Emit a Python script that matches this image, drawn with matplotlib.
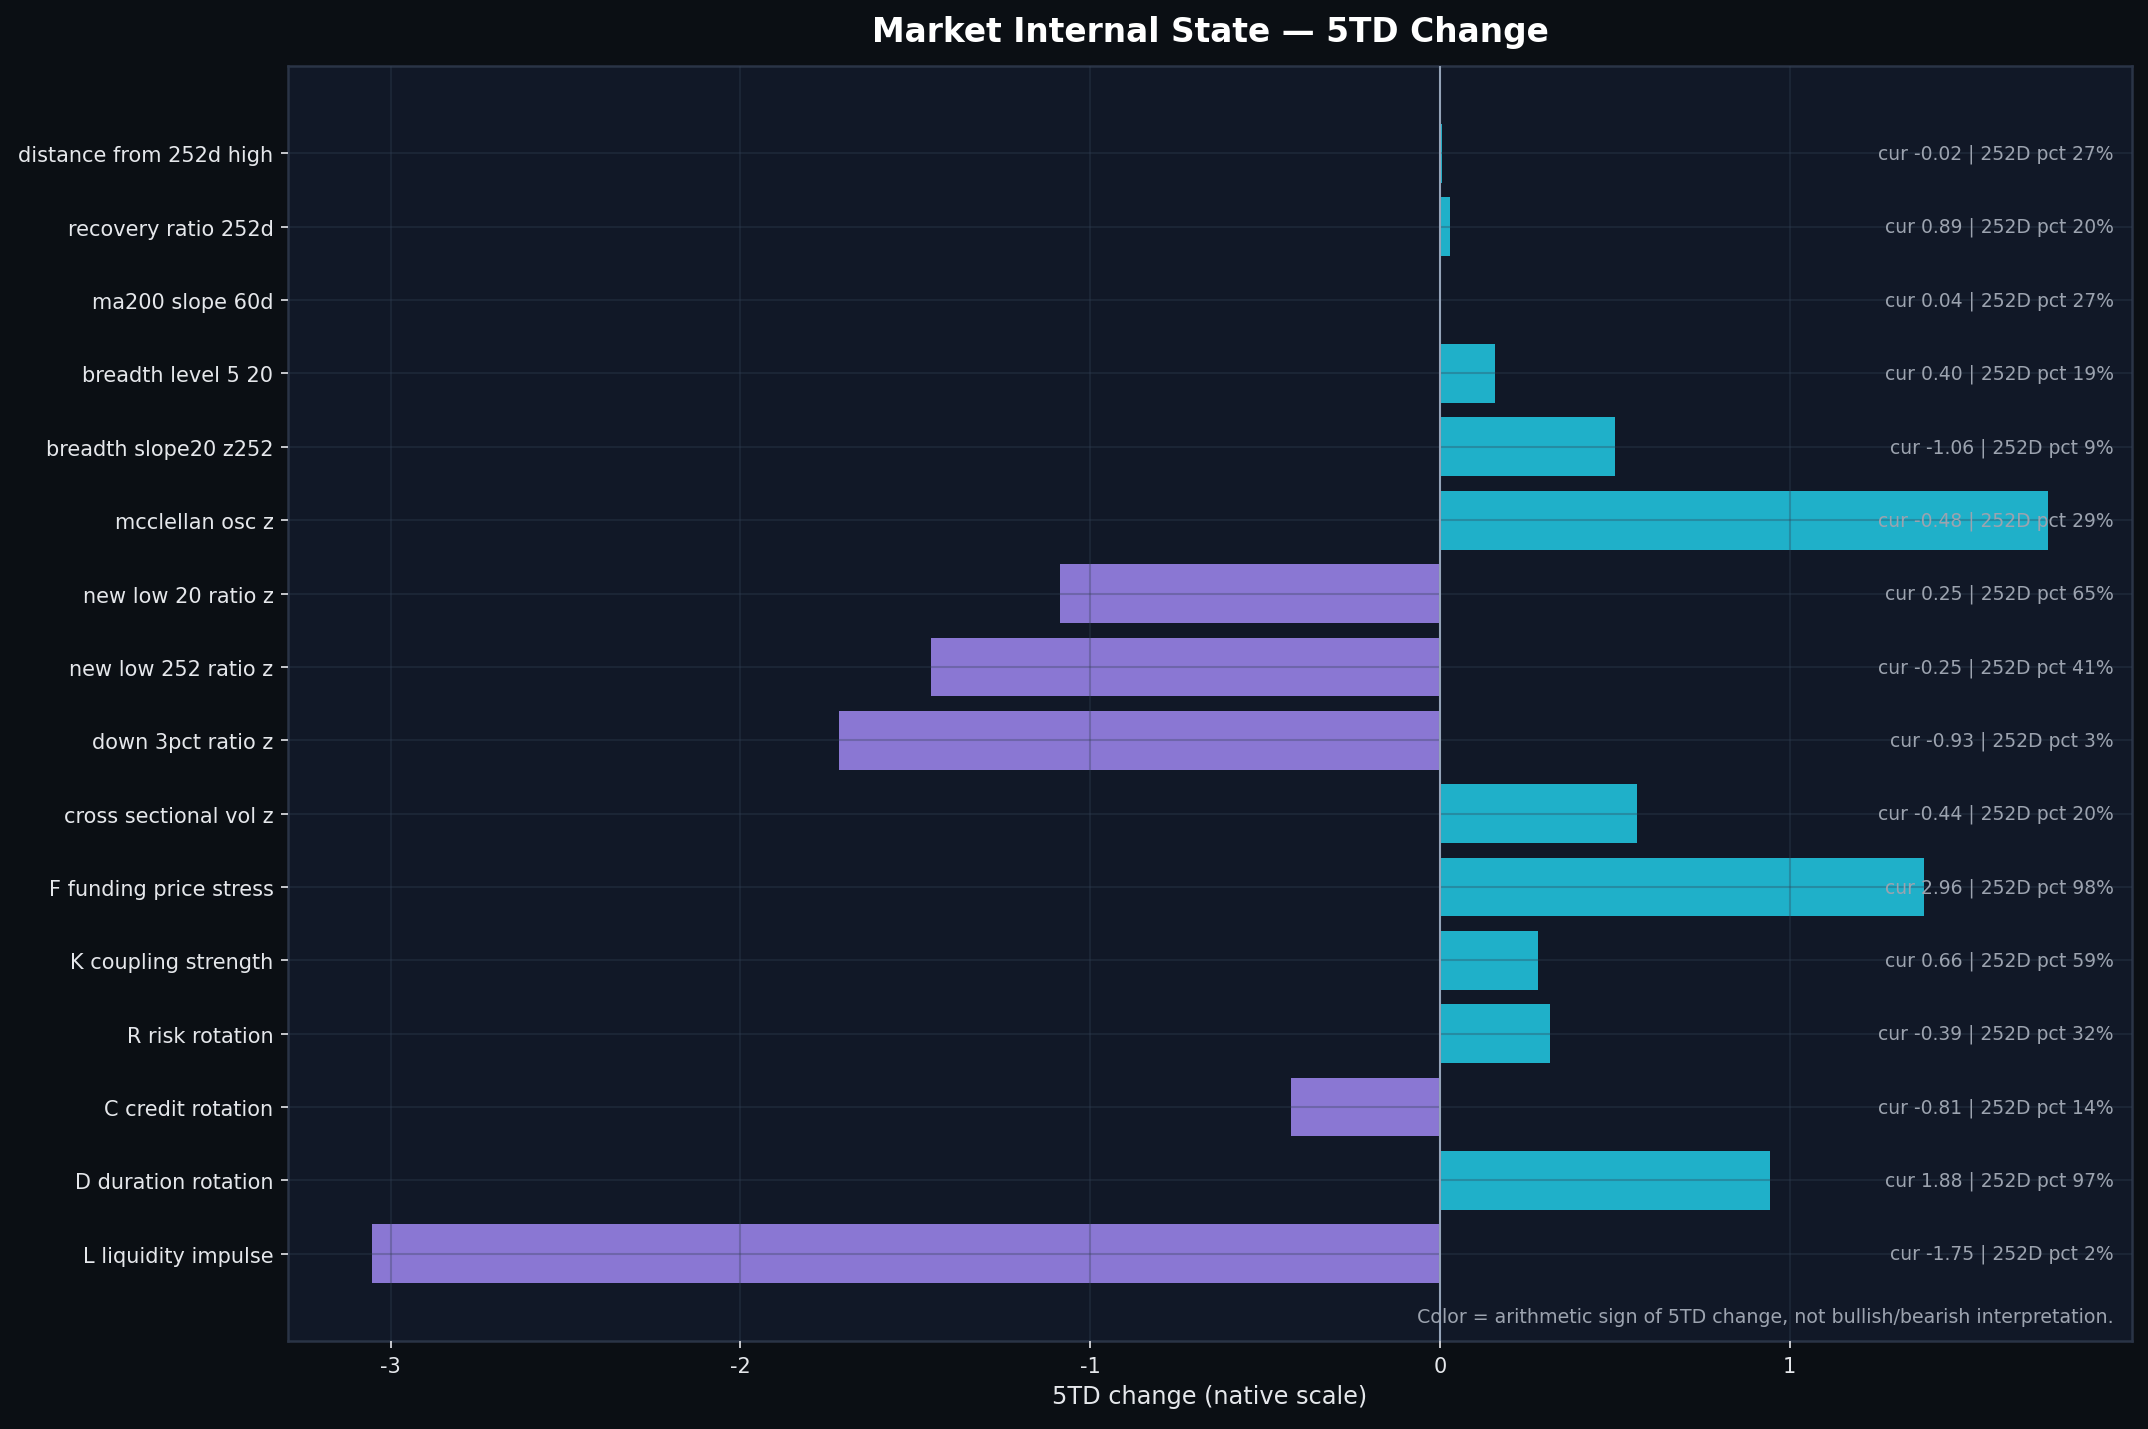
import matplotlib
matplotlib.use("Agg")
import matplotlib.pyplot as plt
import numpy as np

categories = [
    "distance from 252d high",
    "recovery ratio 252d",
    "ma200 slope 60d",
    "breadth level 5 20",
    "breadth slope20 z252",
    "mcclellan osc z",
    "new low 20 ratio z",
    "new low 252 ratio z",
    "down 3pct ratio z",
    "cross sectional vol z",
    "F funding price stress",
    "K coupling strength",
    "R risk rotation",
    "C credit rotation",
    "D duration rotation",
    "L liquidity impulse",
]
change_5td = [0.005, 0.03, 0.0, 0.158, 0.502, 1.740, -1.085, -1.454, -1.719,
              0.564, 1.385, 0.281, 0.316, -0.426, 0.945, -3.054]
current = ["-0.02", "0.89", "0.04", "0.40", "-1.06", "-0.48", "0.25", "-0.25", "-0.93",
           "-0.44", "2.96", "0.66", "-0.39", "-0.81", "1.88", "-1.75"]
pct_252d = [27, 20, 27, 19, 9, 29, 65, 41, 3, 20, 98, 59, 32, 14, 97, 2]

title = "Market Internal State \u2014 5TD Change"
xlabel = "5TD change (native scale)"
footnote = "Color = arithmetic sign of 5TD change, not bullish/bearish interpretation."

FIG_BG = "#0b0f14"
AX_BG = "#111827"
POS = "#1fb0c9"
NEG = "#8a77d3"
TXT = "#e5e7eb"
MUTED = "#9ca3af"
SPINE = "#2a3446"

plt.rcParams["font.family"] = ["DejaVu Sans"]

fig = plt.figure(figsize=(14.32, 9.533), dpi=150, facecolor=FIG_BG)
ax = fig.add_axes([0.1341, 0.0615, 0.8585, 0.8916])
ax.set_facecolor(AX_BG)

y = np.arange(len(categories))
colors = [POS if v >= 0 else NEG for v in change_5td]
ax.barh(y, change_5td, height=0.8, color=colors, zorder=1)
ax.set_axisbelow(False)
ax.grid(True, color="#334155", alpha=0.32, linewidth=1.0, zorder=2)
ax.axvline(0, color="#94a3b8", linewidth=1.0, zorder=3)

ax.set_yticks(y)
ax.set_yticklabels(categories, fontsize=10, color=TXT)
ax.invert_yaxis()

ax.set_xticks([-3, -2, -1, 0, 1])
ax.set_xticklabels(["-3", "-2", "-1", "0", "1"], fontsize=10, color=TXT)
ax.tick_params(colors=TXT, length=3.5)
ax.set_xlabel(xlabel, fontsize=11.5, color=TXT)
ax.set_title(title, fontsize=15.8, fontweight="bold", color="white", pad=12)

for s in ax.spines.values():
    s.set_color(SPINE)
    s.set_linewidth(1.2)

for yi, c, p in zip(y, current, pct_252d):
    ax.text(0.99, yi, f"cur {c} | 252D pct {p}%", transform=ax.get_yaxis_transform(),
            ha="right", va="center", fontsize=9, color=MUTED, zorder=4)

ax.text(0.99, 0.012, footnote, transform=ax.transAxes, ha="right", va="bottom",
        fontsize=9.1, color=MUTED, zorder=4)

fig.savefig("out.png", dpi=150, facecolor=FIG_BG)
